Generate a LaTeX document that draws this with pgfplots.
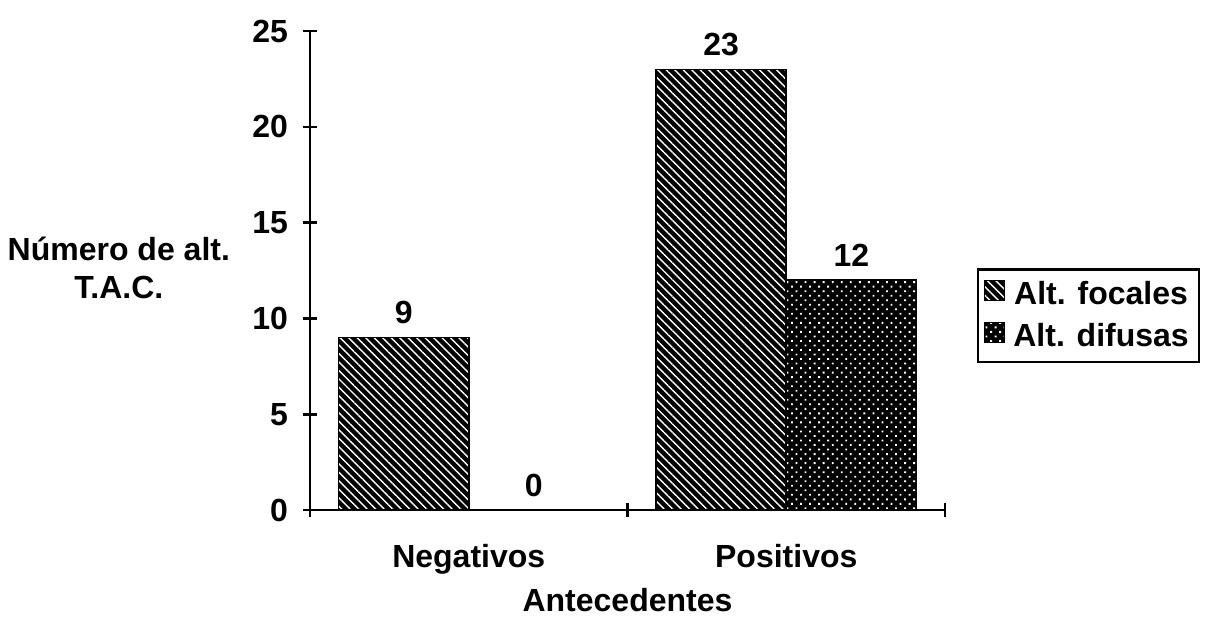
\documentclass[border=0pt]{standalone}
\usepackage{pgfplots}
\pgfplotsset{compat=1.18}
\usetikzlibrary{patterns.meta}
\usepackage{fontspec}
\setmainfont{Liberation Sans}
\newcommand{\cf}{\fontsize{16}{19}\selectfont\bfseries}
\begin{document}
\begin{tikzpicture}
\path[use as bounding box] (-155pt,-53.5pt) rectangle (460.5pt,255pt);
\begin{axis}[
  scale only axis,
  width=317.5pt, height=239.5pt,
  xmin=0, xmax=2, ymin=0, ymax=25,
  axis x line*=bottom, axis y line*=left,
  axis line style={line width=1.3pt},
  ytick={0,5,10,15,20,25},
  xtick={0,1,2}, xticklabels={,,},
  extra x ticks={0.5,1.5},
  extra x tick labels={Negativos,Positivos},
  extra x tick style={major tick length=0pt, xticklabel style={anchor=base, yshift=-28.5pt}},
  major tick length=7pt,
  every tick/.style={black, line width=1.3pt},
  /pgf/number format/assume math mode=true,
  tick label style={font=\cf},
  yticklabel style={xshift=-4pt},
  ybar,
  bar width=0.41,
  nodes near coords,
  nodes near coords style={font=\cf, yshift=3pt},
  every axis y label/.style={at={(axis description cs:-0.301,0.505)}, anchor=center, align=center, font=\cf},
  ylabel={Número de alt.\\T.A.C.},
  every axis x label/.style={at={(axis description cs:0.5,-0.188)}, anchor=center, font=\cf},
  xlabel={Antecedentes},
  legend style={at={(axis description cs:1.05,0.406)}, anchor=west, draw=black, line width=1.2pt, font=\cf, row sep=4pt, inner xsep=3pt, inner ysep=4pt},
  legend image code/.code={\draw[#1, line width=0.6pt] (0pt,-3pt) rectangle (10pt,7pt); \path (12pt,0pt);},
  tick align=center,
  xtick align=center, ytick align=center,
]
\addplot[draw=black, line width=0.8pt, fill=black, bar shift=-0.205,
  postaction={pattern={Lines[angle=-45, distance=3pt, line width=0.7pt]}, pattern color=white}]
  coordinates {(0.5,9) (1.5,23)};
\addplot[draw=black, line width=0.8pt, fill=black, bar shift=0.205,
  postaction={pattern={Dots[angle=45, distance=3.2pt, radius=0.65pt]}, pattern color=white}]
  coordinates {(0.5,0) (1.5,12)};
\legend{Alt. focales, Alt. difusas}
\end{axis}
\end{tikzpicture}
\end{document}
